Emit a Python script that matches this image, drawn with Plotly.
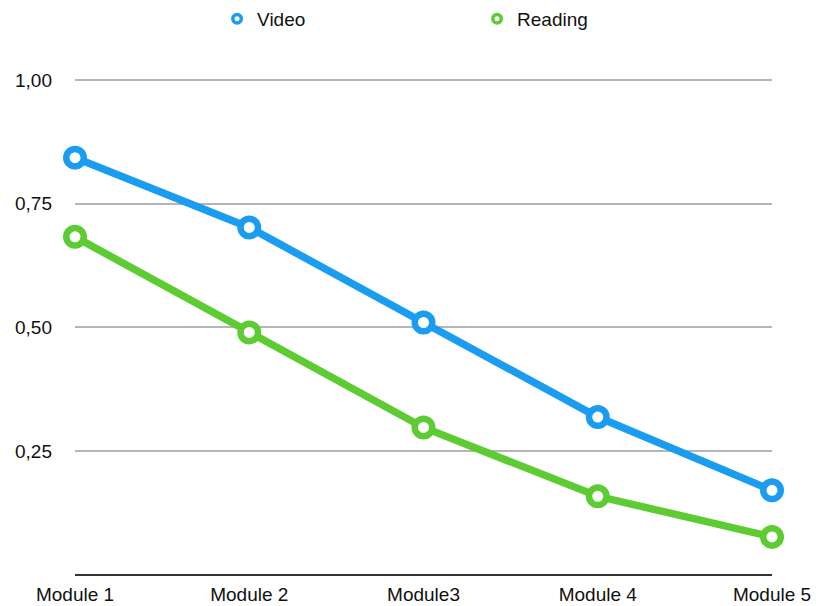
import plotly.graph_objects as go

categories = ["Module 1", "Module 2", "Module3", "Module 4", "Module 5"]
video = [0.843, 0.702, 0.510, 0.319, 0.171]
reading = [0.683, 0.490, 0.298, 0.159, 0.077]
series_names = ["Video", "Reading"]
colors = ["#1A9CF0", "#5DCB32"]
y_ticks = [0.25, 0.50, 0.75, 1.00]

fig = go.Figure()
for name, vals, col in zip(series_names, [video, reading], colors):
    fig.add_trace(go.Scatter(
        x=categories, y=vals, mode="lines+markers", name=name, showlegend=False,
        line=dict(color=col, width=7.5),
        marker=dict(symbol="circle", size=17.5, color="white", line=dict(color=col, width=6.5)),
        cliponaxis=False,
    ))
for name, col in zip(series_names, colors):
    fig.add_trace(go.Scatter(
        x=[None], y=[None], mode="markers", name=name, showlegend=True,
        marker=dict(symbol="circle", size=8.5, color="white", line=dict(color=col, width=3.5)),
    ))

fig.update_layout(
    width=816, height=606,
    margin=dict(l=75, r=44, t=70, b=31, autoexpand=False),
    plot_bgcolor="white", paper_bgcolor="white",
    separators=",.",
    font=dict(family="Liberation Sans, Arial, sans-serif", size=19, color="#111"),
    legend=dict(orientation="h", xref="container", yref="container", x=0.266, y=1.0,
                xanchor="left", yanchor="top", entrywidth=215, entrywidthmode="pixels",
                font=dict(size=19), itemwidth=30),
    xaxis=dict(showgrid=False, showline=False, zeroline=False, ticks="",
               tickfont=dict(size=19), ticklabelstandoff=6, automargin=False),
    yaxis=dict(range=[0, 1.02], tickvals=y_ticks, tickformat=".2f", showgrid=True,
               gridcolor="#B5B5B5", gridwidth=1.5, zeroline=True, zerolinecolor="#333",
               zerolinewidth=2, showline=False, ticks="", ticklabelstandoff=22,
               tickfont=dict(size=19), automargin=False),
)
fig.update_xaxes(type="category", range=[0, 4])
fig.write_html("out.html")
